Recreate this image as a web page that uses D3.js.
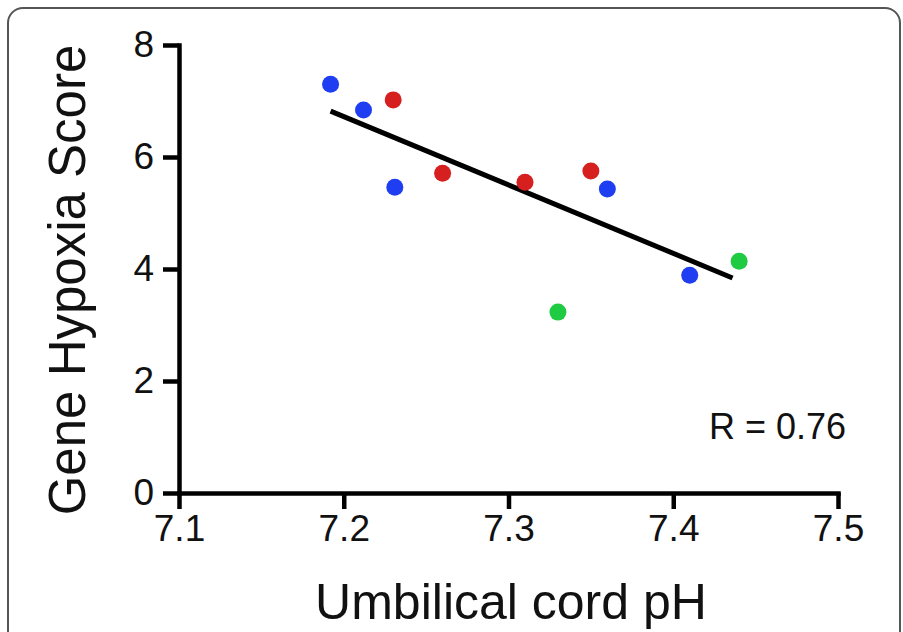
<!DOCTYPE html>
<html>
<head>
<meta charset="utf-8">
<script src="https://cdn.jsdelivr.net/npm/d3@7"></script>
<style>
  html, body { margin: 0; padding: 0; background: #fff; }
  svg { display: block; font-family: "Liberation Sans", Arial, Helvetica, sans-serif; }
</style>
</head>
<body>
<svg id="chart" width="903" height="632"></svg>
<script>
// data
const groups = ["blue", "red", "green"];
const bluePH = [7.192, 7.212, 7.231, 7.360, 7.410];
const blueScore = [7.30, 6.84, 5.46, 5.43, 3.89];
const redPH = [7.230, 7.260, 7.310, 7.350];
const redScore = [7.02, 5.71, 5.55, 5.75];
const greenPH = [7.330, 7.440];
const greenScore = [3.23, 4.14];
const fitPH = [7.192, 7.436];
const fitScore = [6.82, 3.84];
const xTicks = [7.1, 7.2, 7.3, 7.4, 7.5];
const yTicks = [0, 2, 4, 6, 8];
const rLabel = "R = 0.76";

const colors = { blue: "#1f3ef2", red: "#d61f1f", green: "#1fcb42" };

const svg = d3.select("#chart");

// rounded frame, running off the bottom of the picture
svg.append("rect")
  .attr("x", 8).attr("y", 8)
  .attr("width", 892).attr("height", 660)
  .attr("rx", 15).attr("ry", 15)
  .attr("fill", "none")
  .attr("stroke", "#555")
  .attr("stroke-width", 2);

const x = d3.scaleLinear().domain([7.1, 7.5]).range([179, 838]);
const y = d3.scaleLinear().domain([0, 8]).range([493, 45]);

// axes
const xAxis = svg.append("g")
  .attr("transform", `translate(0,${y(0)})`)
  .call(d3.axisBottom(x).tickValues(xTicks).tickFormat(d3.format(".1f")).tickSize(16).tickSizeOuter(0).tickPadding(6));

const yAxis = svg.append("g")
  .attr("transform", `translate(${x(7.1)},0)`)
  .call(d3.axisLeft(y).tickValues(yTicks).tickSize(16).tickSizeOuter(0).tickPadding(9));

[xAxis, yAxis].forEach(a => {
  a.select(".domain").attr("stroke", "#000").style("stroke-width", "4.5px").attr("stroke-linecap", "square");
  a.selectAll(".tick line").attr("stroke", "#000").style("stroke-width", "4.5px");
  a.selectAll(".tick text")
    .attr("fill", "#111")
    .style("font-family", "'Liberation Sans', Arial, sans-serif")
    .style("font-size", "37px");
});

// regression line
const fit = fitPH.map((p, i) => [p, fitScore[i]]);
svg.append("path")
  .datum(fit)
  .attr("d", d3.line().x(d => x(d[0])).y(d => y(d[1])))
  .attr("stroke", "#000")
  .attr("stroke-width", 5)
  .attr("fill", "none");

// points
const points = [];
bluePH.forEach((p, i) => points.push({ g: "blue", ph: p, s: blueScore[i] }));
redPH.forEach((p, i) => points.push({ g: "red", ph: p, s: redScore[i] }));
greenPH.forEach((p, i) => points.push({ g: "green", ph: p, s: greenScore[i] }));

svg.append("g")
  .selectAll("circle")
  .data(points)
  .join("circle")
  .attr("cx", d => x(d.ph))
  .attr("cy", d => y(d.s))
  .attr("r", 8.5)
  .attr("fill", d => colors[d.g]);

// labels
svg.append("text")
  .attr("x", 511).attr("y", 619)
  .attr("text-anchor", "middle")
  .style("font-size", "50px")
  .attr("fill", "#111")
  .text("Umbilical cord pH");

svg.append("text")
  .attr("transform", "translate(85,280) rotate(-90)")
  .attr("text-anchor", "middle")
  .style("font-size", "51px")
  .attr("fill", "#111")
  .text("Gene Hypoxia Score");

svg.append("text")
  .attr("x", 846).attr("y", 439)
  .attr("text-anchor", "end")
  .style("font-size", "36px")
  .attr("fill", "#111")
  .text(rLabel);
</script>
</body>
</html>
